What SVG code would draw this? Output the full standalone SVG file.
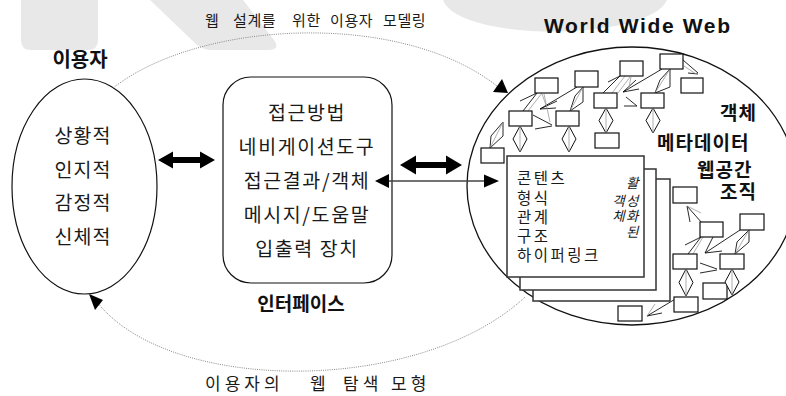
<svg xmlns="http://www.w3.org/2000/svg" width="786" height="396" viewBox="0 0 786 396">
<style>
.k{font-family:"Noto Sans CJK KR","Noto Sans",sans-serif;fill:#1a1a1a}
.kb{font-family:"Noto Sans CJK KR","Noto Sans",sans-serif;font-weight:bold;fill:#111}
.wm{fill:#e8e8e8;stroke:none}
.bx{fill:#fff;stroke:#111;stroke-width:1.2}
.ln{stroke:#111;stroke-width:0.9;fill:none}
.gl{stroke:#999;stroke-width:0.8;fill:none}
.dm{fill:#fff;stroke:#111;stroke-width:1}
.pg{fill:#fff;stroke:#333;stroke-width:1.5}
.dot{stroke:#888;stroke-width:1;fill:none;stroke-dasharray:1 1.2}
</style>
<rect width="786" height="396" fill="#fff"/>
<g id="watermark">
<path class="wm" d="M21,0 L98,0 L98,40 Q98,50 88,50 L31,50 Q21,50 21,40 Z"/>
<path class="wm" d="M150,0 L196,44 Q203,50 212,50 L268,50 Q281,50 274,40 L243,0 Z"/>
<path class="wm" d="M443,0 C458,42 648,42 667,0 Z"/>
</g>
<g id="labels">
<text class="k" y="26" font-size="15" letter-spacing="0.6"><tspan x="205">웹</tspan><tspan x="233">설계를</tspan><tspan x="292">위한</tspan><tspan x="330">이용자</tspan><tspan x="383">모델링</tspan></text>
<text x="544" y="33" font-family="Liberation Sans,Arial,sans-serif" font-weight="bold" font-size="21" textLength="186" lengthAdjust="spacing" fill="#111">World Wide Web</text>
<text class="k" y="390" font-size="17" letter-spacing="4"><tspan x="205">이용자의</tspan><tspan x="310">웹</tspan><tspan x="343">탐색</tspan><tspan x="391">모형</tspan></text>
</g>
<g id="user">
<text class="kb" x="80" y="67" font-size="20" text-anchor="middle">이용자</text>
<ellipse cx="84.5" cy="186.5" rx="72.5" ry="107.5" fill="none" stroke="#111" stroke-width="1.2"/>
<g class="k" font-size="19.5" letter-spacing="1" text-anchor="middle">
<text x="83" y="143">상황적</text>
<text x="83" y="176.5">인지적</text>
<text x="83" y="210">감정적</text>
<text x="83" y="243.5">신체적</text>
</g>
</g>
<g id="interface">
<rect x="223" y="77" width="169" height="206" rx="28" ry="28" fill="none" stroke="#111" stroke-width="1.2"/>
<g class="k" font-size="19.5" letter-spacing="1.6" text-anchor="middle">
<text x="307" y="120">접근방법</text>
<text x="307" y="154">네비게이션도구</text>
<text x="307" y="188">접근결과/객체</text>
<text x="307" y="222">메시지/도움말</text>
<text x="307" y="256">입출력 장치</text>
</g>
<text class="kb" x="301" y="311" font-size="19" text-anchor="middle">인터페이스</text>
</g>
<g id="web">
<ellipse cx="632" cy="186" rx="165" ry="139" fill="none" stroke="#111" stroke-width="1.3"/>
<g id="web-links">
<path class="ln" d="M523,111 L537,93 M520,101 L537,93"/>
<path class="gl" d="M528,111 L542,93 M542,94 L547,108"/>
<path class="ln" d="M577,87 L540,109 M540,109 L557,101 M540,109 L556,108"/>
<path class="ln" d="M533,115 L552,125 M535,129 L552,126"/>
<path class="gl" d="M544,94 L550,122"/>
<path class="ln" d="M570,111 L575,96 L583,87 L583,102 Z"/>
<path class="gl" d="M570,111 L583,87"/>
<path class="ln" d="M490,148 L491,136 L503,122 L503,136 Z"/>
<path class="gl" d="M490,148 L503,122"/>
<path class="ln" d="M603,93 L620,76 M608,82 L620,76"/>
<path class="gl" d="M612,93 L625,76 M618,93 L630,77"/>
<path class="ln" d="M662,69 L623,92 M623,92 L636,80 M623,92 L639,89"/>
<path class="ln" d="M626,97 L637,106 M624,106 L637,106"/>
<path class="gl" d="M631,77 L628,92"/>
<path class="ln" d="M655,93 L660,80 L670,69 L670,87 Z"/>
<path class="gl" d="M655,93 L670,69"/>
<path class="ln" d="M683,60 L698,73 M688,73 L698,74"/>
<path class="gl" d="M684,66 L696,74"/>
<path class="ln" d="M702,223 L687,206 M687,206 L690,222"/>
<path class="gl" d="M687,206 L701,213"/>
<path class="ln" d="M688,254 L701,237 M685,245 L701,237"/>
<path class="gl" d="M693,254 L703,237"/>
<path class="ln" d="M713,237 L705,253 M740,230 L705,253 M705,253 L722,251"/>
<path class="ln" d="M700,263 L717,269 M700,273 L717,270"/>
<path class="ln" d="M735,254 L737,242 L749,230 L749,242 Z"/>
<path class="gl" d="M735,254 L749,230"/>
<path class="ln" d="M677,298 L647,316 M647,316 L662,313"/>
<path class="gl" d="M647,316 L655,304"/>
</g>
<g id="web-boxes">
<rect class="bx" x="535" y="78" width="23" height="15"/>
<rect class="bx" x="575" y="71" width="23" height="16"/>
<rect class="bx" x="620" y="61" width="23" height="15"/>
<rect class="bx" x="660" y="54" width="23" height="15"/>
<rect class="bx" x="681" y="78" width="22" height="15"/>
<rect class="bx" x="509" y="111" width="23" height="15"/>
<rect class="bx" x="556" y="111" width="23" height="15"/>
<rect class="bx" x="594" y="93" width="23" height="15"/>
<rect class="bx" x="641" y="93" width="23" height="15"/>
<rect class="bx" x="595" y="133" width="24" height="15"/>
<rect class="bx" x="481" y="148" width="23" height="15"/>
<rect class="bx" x="673" y="187" width="24" height="16"/>
<rect class="bx" x="700" y="222" width="23" height="15"/>
<rect class="bx" x="740" y="214" width="24" height="16"/>
<rect class="bx" x="673" y="254" width="24" height="15"/>
<rect class="bx" x="720" y="254" width="24" height="15"/>
<rect class="bx" x="703" y="283" width="24" height="16"/>
<rect class="bx" x="674" y="297" width="24" height="15"/>
<rect class="bx" x="618" y="306" width="24" height="15"/>
</g>
<g id="web-diamonds">
<path class="dm" d="M520,126 L527,139 L520,152 L513,139 Z"/>
<path class="gl" d="M520,126 L520,152"/>
<path class="dm" d="M569,126 L576,139 L569,152 L562,139 Z"/>
<path class="gl" d="M569,126 L569,152"/>
<path class="dm" d="M606,108 L613,120.5 L606,133 L599,120.5 Z"/>
<path class="gl" d="M606,108 L606,133"/>
<path class="dm" d="M653,108 L660,120.5 L653,133 L646,120.5 Z"/>
<path class="gl" d="M653,108 L653,133"/>
<path class="dm" d="M686,269 L693,282.5 L686,296 L679,282.5 Z"/>
<path class="gl" d="M686,269 L686,296"/>
<path class="dm" d="M732,269 L739,282 L732,295 L725,282 Z"/>
<path class="gl" d="M732,269 L732,295"/>
</g>
<g id="pages">
<rect class="pg" x="533" y="179" width="137" height="122"/>
<rect class="pg" x="520" y="169" width="136" height="121"/>
<rect class="pg" x="507" y="156" width="137" height="121"/>
<g class="k" font-size="15.5" letter-spacing="2.5">
<text x="517" y="184">콘텐츠</text>
<text x="517" y="204">형식</text>
<text x="517" y="223">관계</text>
<text x="517" y="242">구조</text>
<text x="517" y="261">하이퍼링크</text>
</g>
<g class="k" font-size="13.5" font-style="italic" text-anchor="end" letter-spacing="1.5">
<text x="640" y="188">활</text>
<text x="640" y="206">객성</text>
<text x="640" y="221">체화</text>
<text x="640" y="237">된</text>
</g>
</g>
<g class="kb" font-size="19" letter-spacing="1">
<text x="720" y="120">객체</text>
<text x="657" y="150">메타데이터</text>
<text x="697" y="177">웹공간</text>
<text x="720" y="199">조직</text>
</g>
</g>
<g id="connectors">
<path class="dot" d="M113,88 C200,20 400,10 497,86"/>
<path d="M508,93 L493,92 L502,79 Z" fill="#000"/>
<path class="dot" d="M525,297 C420,395 170,395 97,302"/>
<path d="M89,294 L103,300 L95,310 Z" fill="#000"/>
<path d="M158,160 L173,151.5 L173,157 L200,157 L200,151.5 L215,160 L200,168.5 L200,163 L173,163 L173,168.5 Z" fill="#000"/>
<path d="M400,165 L416,155.5 L416,162 L446,162 L446,155.5 L462,165 L446,174.5 L446,168 L416,168 L416,174.5 Z" fill="#000"/>
<line x1="388" y1="181" x2="484" y2="181" stroke="#444" stroke-width="1.5"/>
<path d="M375,181 L389,174 L389,188 Z" fill="#000"/>
<path d="M499,181 L484,174.5 L484,187.5 Z" fill="#000"/>
</g>
</svg>
